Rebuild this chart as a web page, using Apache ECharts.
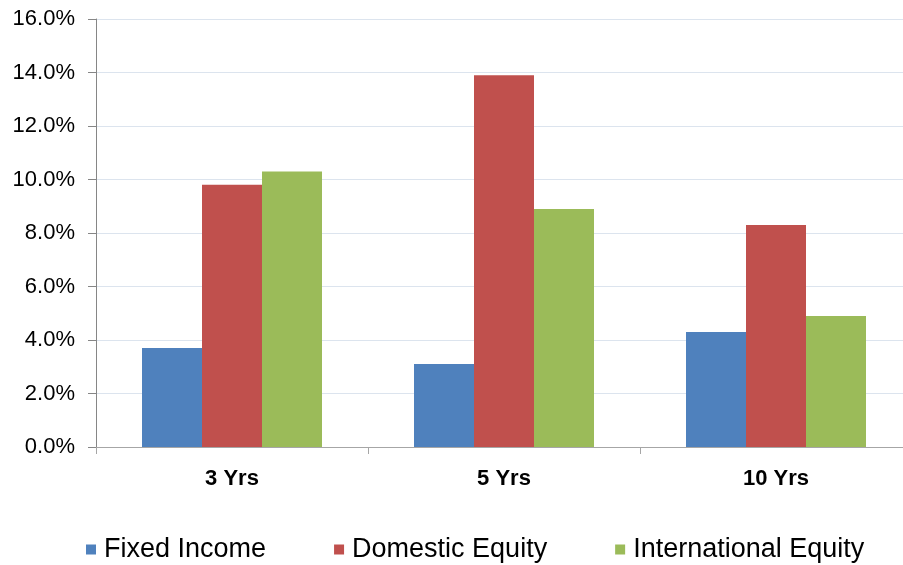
<!DOCTYPE html>
<html>
<head>
<meta charset="utf-8">
<script src="https://cdn.jsdelivr.net/npm/echarts@6/dist/echarts.min.js"></script>
<style>
  html, body { margin: 0; padding: 0; background: #fff; overflow: hidden; }
  /* plot area runs a little past the right edge of the window, as in the original */
  #main { width: 912px; height: 565px; }
</style>
</head>
<body>
<div id="main"></div>
<script>
// periods along the x axis
var periods = ['3 Yrs', '5 Yrs', '10 Yrs'];
// annualised returns, in percent
var fixedIncome = [3.7, 3.1, 4.3];
var domesticEquity = [9.8, 13.9, 8.3];
var internationalEquity = [10.3, 8.9, 4.9];
// y axis range
var yMin = 0, yMax = 16, yStep = 2;

var chart = echarts.init(document.getElementById('main'));

function barSeries(name, data, color) {
    return {
        name: name,
        type: 'bar',
        data: data,
        barWidth: 60,
        barGap: '0%',
        itemStyle: { color: color },
        emphasis: { disabled: true }
    };
}

var option = {
    animation: false,
    textStyle: { fontFamily: 'Liberation Sans, Arial, sans-serif' },
    grid: { left: 96, right: 0, top: 19, bottom: 118, containLabel: false },
    legend: {
        left: 86,
        top: 536,
        padding: 0,
        itemWidth: 10,
        itemHeight: 10,
        itemGap: 68,
        icon: 'rect',
        textStyle: { fontSize: 27, color: '#000', padding: [0, 0, 0, 3] },
        data: ['Fixed Income', 'Domestic Equity', 'International Equity']
    },
    xAxis: {
        type: 'category',
        data: periods,
        axisLine: { lineStyle: { color: '#A6A6A6', width: 1 } },
        axisTick: { show: true, length: 7, lineStyle: { color: '#A6A6A6' } },
        axisLabel: { fontSize: 22, fontWeight: 'bold', color: '#000', margin: 21 }
    },
    yAxis: {
        type: 'value',
        min: yMin,
        max: yMax,
        interval: yStep,
        axisLine: { show: true, lineStyle: { color: '#868686', width: 1 } },
        axisTick: { show: true, length: 8, lineStyle: { color: '#868686' } },
        axisLabel: {
            fontSize: 22,
            color: '#000',
            margin: 21,
            formatter: function (v) { return v.toFixed(1) + '%'; }
        },
        splitLine: { lineStyle: { color: '#DCE4EE', width: 1 } }
    },
    series: [
        barSeries('Fixed Income', fixedIncome, '#4F81BD'),
        barSeries('Domestic Equity', domesticEquity, '#C0504D'),
        barSeries('International Equity', internationalEquity, '#9BBB59')
    ]
};

chart.setOption(option);
</script>
</body>
</html>
